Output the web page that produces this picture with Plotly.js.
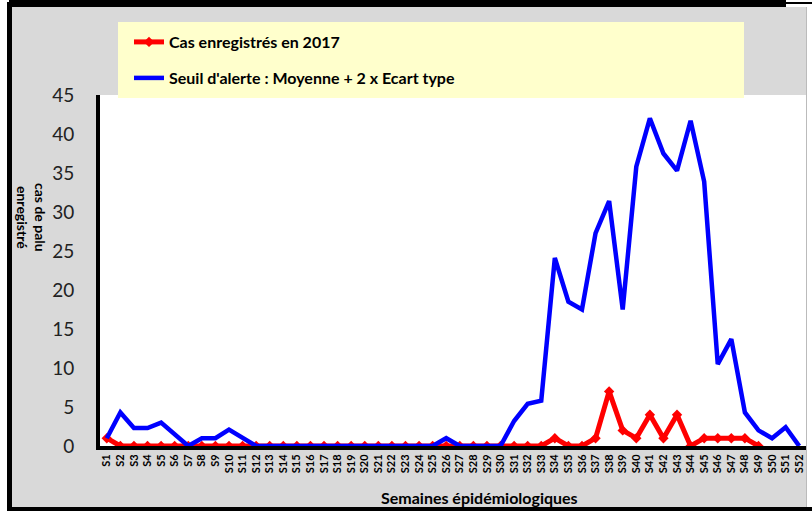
<!DOCTYPE html>
<html>
<head>
<meta charset="utf-8">
<script src="https://cdn.plot.ly/plotly-3.0.1.min.js"></script>
<style>
  html, body { margin: 0; padding: 0; background: #ffffff; }
  #wrap { position: relative; width: 812px; height: 511px; overflow: hidden; }
  #bg { position: absolute; left: 12px; top: 7px; width: 794px; height: 500px; background: #d9d9d9; }
  #chart { position: absolute; left: 0; top: 0; width: 812px; height: 511px; }
  .bar { position: absolute; background: #000; pointer-events: none; }
</style>
</head>
<body>
<div id="wrap">
  <div id="bg"></div>
  <div id="chart"></div>
  <div class="bar" style="left:9px; top:0px; width:777px; height:7px;"></div>
  <div class="bar" style="left:786px; top:2px; width:26px; height:2px;"></div>
  <div class="bar" style="left:7px; top:2px; width:5px; height:509px;"></div>
  <div class="bar" style="left:7px; top:507px; width:805px; height:4px;"></div>
  <div class="bar" style="left:806px; top:7px; width:1px; height:500px; background:#bbbbbb;"></div>
</div>
<script>
const weeks = ["S1","S2","S3","S4","S5","S6","S7","S8","S9","S10",
  "S11","S12","S13","S14","S15","S16","S17","S18","S19","S20",
  "S21","S22","S23","S24","S25","S26","S27","S28","S29","S30",
  "S31","S32","S33","S34","S35","S36","S37","S38","S39","S40",
  "S41","S42","S43","S44","S45","S46","S47","S48","S49","S50",
  "S51","S52"];

const cases2017 = [1,0,0,0,0,0,0,0,0,0,
  0,0,0,0,0,0,0,0,0,0,
  0,0,0,0,0,0,0,0,0,0,
  0,0,0,1,0,0,1,7,2,1,
  4,1,4,0,1,1,1,1,0,null,
  null,null];

const alertThreshold = [1,4.3,2.3,2.3,3.0,1.5,0,1.0,1.0,2.1,
  1.0,0,0,0,0,0,0,0,0,0,
  0,0,0,0,0,1.0,0,0,0,0,
  3.2,5.4,5.8,24.1,18.5,17.5,27.3,31.4,17.5,35.8,
  42.0,37.5,35.3,41.7,33.9,10.5,13.7,4.3,2.0,1.0,
  2.4,0];

const yTicks = [0,5,10,15,20,25,30,35,40,45];

const FONT = "Lato, 'Open Sans', 'DejaVu Sans', sans-serif";

const traces = [
  {
    type: "scatter", mode: "lines+markers",
    x: weeks, y: cases2017,
    name: "Cas enregistrés en 2017",
    line: { color: "#ff0000", width: 5 },
    marker: { color: "#ff0000", symbol: "diamond", size: 8 },
    connectgaps: false,
    legend: "legend"
  },
  {
    type: "scatter", mode: "lines",
    x: weeks, y: alertThreshold,
    name: "Seuil d'alerte : Moyenne + 2 x Ecart type",
    line: { color: "#0000ff", width: 4.5 },
    legend: "legend2"
  }
];

const legendCommon = {
  xref: "container", yref: "container",
  xanchor: "left", yanchor: "middle",
  bgcolor: "rgba(0,0,0,0)",
  borderwidth: 0,
  itemwidth: 30,
  font: { family: FONT, size: 16, color: "#000000", weight: "bold" }
};

const layout = {
  width: 812, height: 511,
  margin: { l: 100, r: 6, t: 95, b: 65, pad: 0, autoexpand: false },
  paper_bgcolor: "rgba(0,0,0,0)",
  plot_bgcolor: "#ffffff",
  showlegend: true,
  legend: Object.assign({}, legendCommon, { x: 129/812, y: 1 - 42/511 }),
  legend2: Object.assign({}, legendCommon, { x: 129/812, y: 1 - 78/511 }),
  xaxis: {
    type: "category",
    range: [-0.5, 51.5],
    tickmode: "array",
    tickvals: weeks,
    ticktext: weeks,
    showgrid: false,
    zeroline: false,
    showline: true, linecolor: "#000000", linewidth: 4,
    layer: "below traces",
    ticks: "",
    tickangle: -90,
    tickfont: { family: FONT, size: 11, color: "#000000", weight: "bold" },
    automargin: false
  },
  yaxis: {
    range: [0, 45],
    tickvals: yTicks,
    showgrid: false,
    zeroline: false,
    showline: true, linecolor: "#000000", linewidth: 4,
    layer: "below traces",
    ticks: "",
    ticklabelstandoff: 18,
    tickfont: { family: FONT, size: 19, color: "#222222" },
    automargin: false
  },
  shapes: [
    {
      type: "rect", xref: "paper", yref: "paper",
      x0: (118-100)/706, x1: (744-100)/706,
      y0: (446-98)/351, y1: (446-22)/351,
      fillcolor: "#ffffcc", line: { width: 0 }, layer: "above"
    }
  ],
  annotations: [
    {
      xref: "paper", yref: "paper",
      x: (32-100)/706, y: (446-217)/351,
      xanchor: "center", yanchor: "middle",
      text: "cas de palu<br>enregistré",
      textangle: 90, showarrow: false,
      font: { family: FONT, size: 14, color: "#000000", weight: "bold" }
    },
    {
      xref: "paper", yref: "paper",
      x: (479-100)/706, y: (446-497)/351,
      xanchor: "center", yanchor: "middle",
      text: "Semaines épidémiologiques",
      showarrow: false,
      font: { family: FONT, size: 16, color: "#000000", weight: "bold" }
    }
  ]
};

Plotly.newPlot("chart", traces, layout, { staticPlot: true, displayModeBar: false });
</script>
</body>
</html>
